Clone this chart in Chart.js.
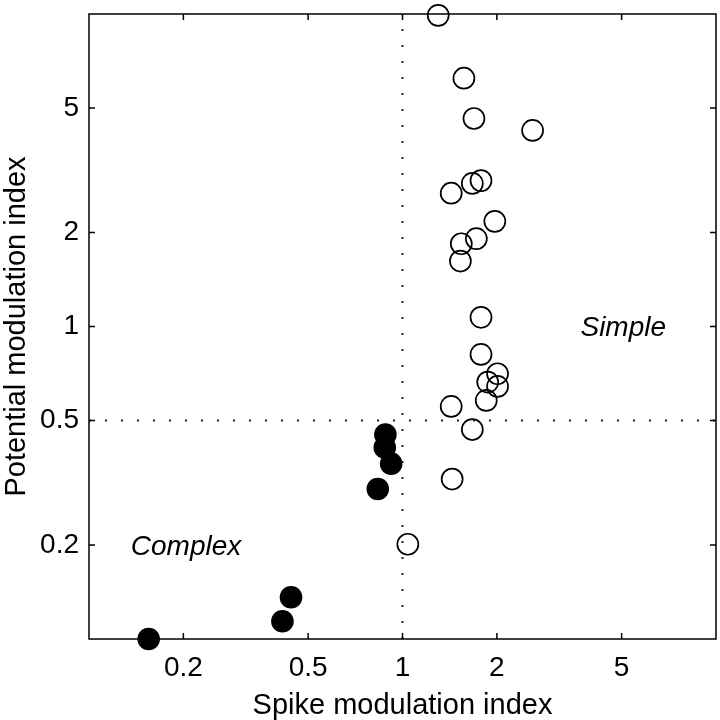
<!DOCTYPE html>
<html>
<head>
<meta charset="utf-8">
<script src="https://cdn.jsdelivr.net/npm/chart.js@4/dist/chart.umd.min.js"></script>
<style>
  html, body { margin: 0; padding: 0; background: #fff; }
  #wrap { width: 720px; height: 720px; position: relative; }
</style>
</head>
<body>
<div id="wrap"><canvas id="modulationChart"></canvas></div>
<script>
// simple cells (open circles)
const simpleX = [1.30, 1.57, 1.69, 2.60, 1.43, 1.67, 1.78, 1.97, 1.72, 1.54, 1.53, 1.78, 1.78, 2.01, 1.87, 2.01, 1.85, 1.43, 1.67, 1.44, 1.04];
const simpleY = [9.9, 6.23, 4.63, 4.24, 2.67, 2.87, 2.93, 2.17, 1.91, 1.84, 1.62, 1.07, 0.814, 0.706, 0.664, 0.643, 0.580, 0.555, 0.468, 0.325, 0.201];

// complex cells (filled circles)
const complexX = [0.882, 0.878, 0.920, 0.834, 0.441, 0.414, 0.155];
const complexY = [0.451, 0.410, 0.364, 0.302, 0.136, 0.114, 0.100];

const tickValues = [0.2, 0.5, 1, 2, 5];
const axisMin = 0.1;
const axisMax = 10;

// dotted separators
const splitX = 1;
const splitY = 0.5;

const annotations = [
    { text: 'Complex', x: 0.204, y: 0.197 },
    { text: 'Simple', x: 5.06, y: 0.985 }
];

const toPoints = (xs, ys) => xs.map((x, i) => ({ x: x, y: ys[i] }));

const fontFamily = '"Liberation Sans", Arial, Helvetica, sans-serif';

// box + inward ticks on all four sides, like the original figure
const frameAndLabels = {
    id: 'frameAndLabels',
    afterDatasetsDraw(chart) {
        const ctx = chart.ctx;
        const area = chart.chartArea;
        const xs = chart.scales.x;
        const ys = chart.scales.y;
        const tickLen = 6;

        ctx.save();
        ctx.strokeStyle = '#000';
        ctx.lineWidth = 1.5;
        ctx.strokeRect(area.left, area.top, area.right - area.left, area.bottom - area.top);

        ctx.beginPath();
        tickValues.forEach(function (v) {
            const px = xs.getPixelForValue(v);
            ctx.moveTo(px, area.bottom);
            ctx.lineTo(px, area.bottom - tickLen);
            ctx.moveTo(px, area.top);
            ctx.lineTo(px, area.top + tickLen);
            const py = ys.getPixelForValue(v);
            ctx.moveTo(area.left, py);
            ctx.lineTo(area.left + tickLen, py);
            ctx.moveTo(area.right, py);
            ctx.lineTo(area.right - tickLen, py);
        });
        ctx.stroke();

        ctx.fillStyle = '#000';
        ctx.font = 'italic 28px ' + fontFamily;
        ctx.textAlign = 'center';
        ctx.textBaseline = 'middle';
        annotations.forEach(function (a) {
            ctx.fillText(a.text, xs.getPixelForValue(a.x), ys.getPixelForValue(a.y));
        });
        ctx.restore();
    }
};

const whiteBackground = {
    id: 'whiteBackground',
    beforeDraw(chart) {
        const ctx = chart.ctx;
        ctx.save();
        ctx.fillStyle = '#fff';
        ctx.fillRect(0, 0, chart.width, chart.height);
        ctx.restore();
    }
};

function setTicks(scale) {
    scale.ticks = tickValues.map(v => ({ value: v }));
}

const ctx = document.getElementById('modulationChart').getContext('2d');
new Chart(ctx, {
    type: 'scatter',
    data: {
        datasets: [
            {
                type: 'line',
                data: [{ x: axisMin, y: splitY }, { x: axisMax, y: splitY }],
                borderColor: '#222',
                borderWidth: 2,
                borderDash: [2, 14],
                pointRadius: 0,
                fill: false
            },
            {
                type: 'line',
                data: [{ x: splitX, y: axisMin }, { x: splitX, y: axisMax }],
                borderColor: '#222',
                borderWidth: 2,
                borderDash: [2, 14],
                pointRadius: 0,
                fill: false
            },
            {
                label: 'Complex',
                data: toPoints(complexX, complexY),
                pointRadius: 11.3,
                pointBackgroundColor: '#000',
                pointBorderColor: '#000',
                pointBorderWidth: 0,
                clip: false
            },
            {
                label: 'Simple',
                data: toPoints(simpleX, simpleY),
                pointRadius: 10.5,
                pointBackgroundColor: 'rgba(0,0,0,0)',
                pointBorderColor: '#000',
                pointBorderWidth: 1.7,
                clip: false
            }
        ]
    },
    options: {
        responsive: true,
        maintainAspectRatio: false,
        animation: false,
        layout: {
            autoPadding: false,
            padding: { top: 14, right: 4, left: 0, bottom: 0 }
        },
        plugins: {
            legend: { display: false },
            tooltip: { enabled: false }
        },
        scales: {
            x: {
                type: 'logarithmic',
                min: axisMin,
                max: axisMax,
                afterBuildTicks: setTicks,
                afterFit: function (scale) {
                    scale.height = 81;
                    scale.paddingLeft = 0;
                    scale.paddingRight = 0;
                },
                grid: { display: false, drawTicks: false },
                border: { display: false },
                ticks: {
                    padding: 12,
                    maxRotation: 0,
                    autoSkip: false,
                    color: '#000',
                    font: { family: fontFamily, size: 28 },
                    callback: function (value) { return String(value); }
                },
                title: {
                    display: true,
                    text: 'Spike modulation index',
                    color: '#000',
                    font: { family: fontFamily, size: 29, lineHeight: 1.0 },
                    padding: { top: 0, bottom: 0 }
                }
            },
            y: {
                type: 'logarithmic',
                min: axisMin,
                max: axisMax,
                afterBuildTicks: setTicks,
                afterFit: function (scale) {
                    scale.width = 89;
                    scale.paddingTop = 0;
                    scale.paddingBottom = 0;
                },
                grid: { display: false, drawTicks: false },
                border: { display: false },
                ticks: {
                    padding: 10,
                    autoSkip: false,
                    color: '#000',
                    font: { family: fontFamily, size: 28 },
                    callback: function (value) { return String(value); }
                },
                title: {
                    display: true,
                    text: 'Potential modulation index',
                    color: '#000',
                    font: { family: fontFamily, size: 29, lineHeight: 1.0 },
                    padding: { top: 2, bottom: 0 }
                }
            }
        }
    },
    plugins: [whiteBackground, frameAndLabels]
});
</script>
</body>
</html>
